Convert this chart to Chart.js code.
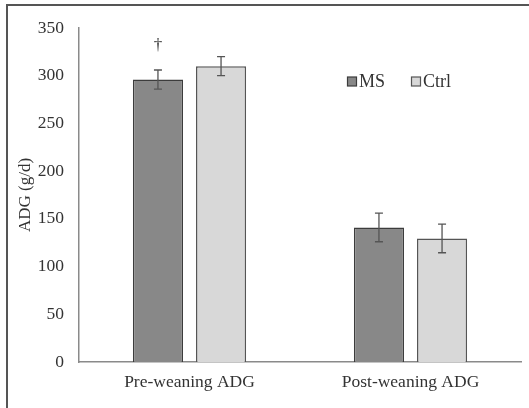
<!DOCTYPE html>
<html>
<head>
<meta charset="utf-8">
<script src="https://cdn.jsdelivr.net/npm/chart.js@4.4.0/dist/chart.umd.min.js"></script>
<style>
  html, body { margin: 0; padding: 0; background: #fff; }
  #wrap { width: 529px; height: 408px; }
</style>
</head>
<body>
<div id="wrap"><canvas id="adgChart" width="529" height="408"></canvas></div>
<script>
const categories = ['Pre-weaning ADG', 'Post-weaning ADG']
const msValues = [296, 141]
const ctrlValues = [310, 129.5]
const msErrors = [10, 15]
const ctrlErrors = [10, 15]
const msMarks = ['\u2020', '']
const yTicks = [0, 50, 100, 150, 200, 250, 300, 350]

const serif = "'Liberation Serif', 'Times New Roman', serif"

// error bars + significance marks drawn from the dataset values
const errorBars = {
  id: 'errorBars',
  afterDatasetsDraw(chart) {
    const ctx = chart.ctx
    const y = chart.scales.y
    chart.data.datasets.forEach((ds, i) => {
      const meta = chart.getDatasetMeta(i)
      meta.data.forEach((bar, j) => {
        const v = ds.data[j]
        const e = ds.errors[j]
        const top = y.getPixelForValue(v + e)
        const bottom = y.getPixelForValue(v - e)
        ctx.save()
        ctx.strokeStyle = '#555'
        ctx.lineWidth = 1.3
        ctx.beginPath()
        ctx.moveTo(bar.x, top)
        ctx.lineTo(bar.x, bottom)
        ctx.moveTo(bar.x - 4, top)
        ctx.lineTo(bar.x + 4, top)
        ctx.moveTo(bar.x - 4, bottom)
        ctx.lineTo(bar.x + 4, bottom)
        ctx.stroke()
        if (ds.marks && ds.marks[j]) {
          ctx.fillStyle = '#333'
          ctx.font = '17px ' + serif
          ctx.textAlign = 'center'
          ctx.textBaseline = 'middle'
          ctx.fillText(ds.marks[j], bar.x, top - 24)
        }
        ctx.restore()
      })
    })
  }
}

const frameAndLegend = {
  id: 'frameAndLegend',
  beforeDraw(chart) {
    const ctx = chart.ctx
    ctx.save()
    ctx.fillStyle = '#fff'
    ctx.fillRect(0, 0, chart.width, chart.height)
    ctx.strokeStyle = '#555'
    ctx.lineWidth = 2
    ctx.beginPath()
    ctx.moveTo(7, chart.height)
    ctx.lineTo(7, 5)
    ctx.lineTo(chart.width, 5)
    ctx.stroke()
    ctx.restore()
  },
  afterDraw(chart) {
    const ctx = chart.ctx
    const items = [[352, 0], [416, 1]]
    ctx.save()
    ctx.font = '18px ' + serif
    ctx.textBaseline = 'middle'
    ctx.textAlign = 'left'
    items.forEach(([x, i]) => {
      const ds = chart.data.datasets[i]
      ctx.fillStyle = ds.backgroundColor
      ctx.strokeStyle = ds.borderColor
      ctx.lineWidth = 1.2
      ctx.fillRect(x - 4.5, 77, 9, 9)
      ctx.strokeRect(x - 4.5, 77, 9, 9)
      ctx.fillStyle = '#333'
      ctx.fillText(ds.label, x + 7, 82)
    })
    ctx.restore()
  }
}

new Chart(document.getElementById('adgChart'), {
  type: 'bar',
  data: {
    labels: categories,
    datasets: [
      {
        label: 'MS',
        data: msValues,
        errors: msErrors,
        marks: msMarks,
        backgroundColor: '#888888',
        borderColor: '#3c3c3c',
        borderWidth: 1.5
      },
      {
        label: 'Ctrl',
        data: ctrlValues,
        errors: ctrlErrors,
        backgroundColor: '#d8d8d8',
        borderColor: '#555555',
        borderWidth: 1.5
      }
    ]
  },
  options: {
    responsive: false,
    animation: false,
    categoryPercentage: 0.571,
    barPercentage: 0.794,
    layout: { padding: { left: 0, right: 8, top: 28, bottom: 0 } },
    plugins: {
      legend: { display: false },
      tooltip: { enabled: false }
    },
    scales: {
      x: {
        grid: { display: false, drawTicks: false },
        border: { color: '#8a8a8a', width: 1.5 },
        ticks: { color: '#333', font: { family: serif, size: 17.5 }, padding: 10 },
        afterFit(scale) { scale.height = 46 }
      },
      y: {
        min: 0,
        max: 350,
        afterBuildTicks(scale) { scale.ticks = yTicks.map(v => ({ value: v })) },
        grid: { display: false, drawTicks: false },
        border: { color: '#8a8a8a', width: 1.5 },
        ticks: { color: '#333', font: { family: serif, size: 17.5 }, padding: 15 },
        title: {
          display: true,
          text: 'ADG (g/d)',
          color: '#333',
          font: { family: serif, size: 17 },
          padding: { top: 15, bottom: 0 }
        },
        afterFit(scale) { scale.width = 79 }
      }
    }
  },
  plugins: [errorBars, frameAndLegend]
})
</script>
</body>
</html>
